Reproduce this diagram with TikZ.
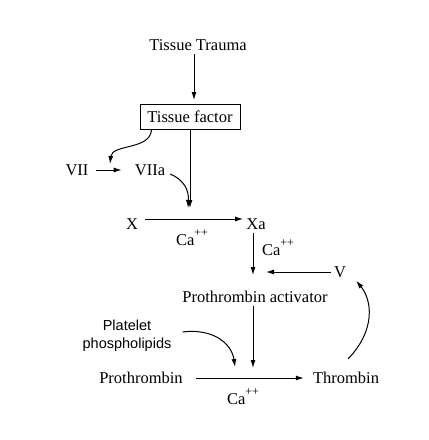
\documentclass[tikz,border=0pt]{standalone}
\usepackage{fontspec}
\setmainfont{Liberation Serif}
\setsansfont{Liberation Sans}
\usepackage{tikz}
\usetikzlibrary{arrows.meta, positioning}

\newcommand{\caplus}{Ca\raisebox{1.2ex}{\fontsize{12pt}{12pt}\selectfont ++}}

\begin{document}
\begin{tikzpicture}[x=1pt, y=1pt]
   \fontsize{16.5pt}{18pt}\selectfont
    % --- STYLES ---
    \tikzstyle{factor} = [inner sep=3pt]
    \tikzstyle{box} = [rectangle, draw=black, line width=1pt, minimum width=100pt, minimum height=25pt]
    \tikzstyle{lipid} = [inner sep=3pt, align=center, font=\sffamily\fontsize{14.5pt}{18pt}\selectfont]
    \tikzstyle{ion} = [inner sep=1pt]
    \tikzstyle{flow} = [-{Latex[length=8pt,width=5pt]}, line width=1pt]

    \useasboundingbox (0,0) rectangle (429,-440);

    % --- NODES ---
    \node (trauma)   [factor] at (198, -45)  {Tissue Trauma};
    \node (tf)       [box]    at (190, -117) {Tissue factor};

    \node (vii)      [factor] at (77, -170)  {VII};
    \node (viia)     [factor] at (150, -170) {VIIa};

    \node (x)        [factor] at (132, -224) {X};
    \node (xa)       [factor] at (256, -224) {Xa};
    \node (ca1)      [ion]    at (192, -238) {\caplus};
    \node (ca2)      [ion]    at (278, -248) {\caplus};

    \node (v)        [factor] at (340, -272) {V};
    \node (pa)       [factor] at (255, -297) {Prothrombin activator};

    \node (lipids)   [lipid]  at (127, -336) {Platelet\\phospholipids};
    \node (pth)      [factor] at (141, -378) {Prothrombin};
    \node (thr)      [factor] at (346, -378) {Thrombin};
    \node (ca3)      [ion]    at (243, -397) {\caplus};

    % targets on the reaction arrows
    \coordinate (traumatip) at (194, -100);
    \coordinate (viitip)  at (110, -164);
    \coordinate (xtip)    at (190, -208);
    \coordinate (xatip)   at (253, -275);
    \coordinate (vtip)    at (266, -272);
    \coordinate (pthtip)  at (253, -368);
    \coordinate (lipidtip) at (235, -367);

    % --- ARROWS ---
    \draw[flow] (trauma.south -| traumatip) -- (traumatip);
    \draw[flow] (tf.south) -- (xtip);
    \draw[flow] ([xshift=12pt]tf.south west) .. controls (150,-150) and (112,-144) .. (viitip);
    \draw[flow, shorten <=4pt] (vii.east) -- ([xshift=-10pt]viia.west);
    \draw[flow] ([xshift=2pt,yshift=-4pt]viia.east) .. controls (184,-180) and (189,-190) .. ([xshift=-2pt]xtip);

    \draw[flow] ([yshift=5pt,xshift=4pt]x.east) -- ([yshift=5pt]xa.west);
    \draw[flow] (xa.south -| xatip) -- (xatip);
    \draw[flow] (v.west) -- (vtip);

    \draw[flow] (pa.south -| pthtip) -- (pthtip);
    \draw[flow] ([xshift=8pt,yshift=4pt]lipids.east) .. controls (215,-328) and (232,-345) .. (lipidtip);
    \draw[flow] ([xshift=10pt]pth.east) -- ([xshift=-6pt]thr.west);
    \draw[flow] ([xshift=2pt,yshift=10pt]thr.north) .. controls (376,-330) and (372,-300) .. ([xshift=7pt]v.south east);

  \end{tikzpicture}
\end{document}
